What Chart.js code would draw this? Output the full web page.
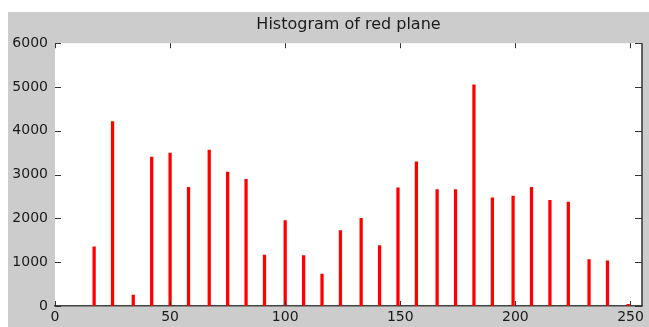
<!DOCTYPE html>
<html>
<head>
<meta charset="utf-8">
<script src="https://cdn.jsdelivr.net/npm/chart.js@4/dist/chart.umd.min.js"></script>
<style>
  body { margin: 0; background: #fff; }
  #wrap { position: absolute; left: 8px; top: 12px; }
</style>
</head>
<body>
<div id="wrap"><canvas id="hist" width="641" height="315"></canvas></div>
<script>
// intensity levels (bins) and their pixel counts
const levels = [17, 25, 34, 42, 50, 58, 67, 75, 83, 91, 100, 108, 116, 124, 133, 141, 149, 157,
                166, 174, 182, 190, 199, 207, 215, 223, 232, 240, 249];
const counts = [1350, 4210, 250, 3400, 3490, 2710, 3560, 3060, 2890, 1160, 1950, 1150, 730, 1720, 2000, 1380, 2700, 3290,
                2660, 2660, 5050, 2470, 2510, 2710, 2410, 2370, 1060, 1030, 40];
const xTicks = [0, 50, 100, 150, 200, 250];
const yTicks = [0, 1000, 2000, 3000, 4000, 5000, 6000];

const FONT = "'DejaVu Sans', sans-serif";
const INK = '#1a1a1a';

// fond gris type figure + zone blanche
const bgPlugin = {
    id: 'bg',
    beforeDraw(chart) {
        const { ctx, chartArea: a } = chart;
        ctx.save();
        ctx.fillStyle = '#cccccc';
        ctx.fillRect(0, 0, chart.width, chart.height);
        ctx.fillStyle = '#ffffff';
        ctx.fillRect(a.left, a.top, a.right - a.left, a.bottom - a.top);
        ctx.restore();
    }
};

// ticks vers l'intérieur sur les 4 côtés + bord droit
const innerTicks = {
    id: 'innerTicks',
    afterDraw(chart) {
        const { ctx, chartArea: a, scales } = chart;
        ctx.save();
        ctx.strokeStyle = '#333';
        ctx.lineWidth = 1;
        ctx.beginPath();
        scales.y.ticks.forEach(t => {
            const py = Math.round(scales.y.getPixelForValue(t.value)) + 0.5;
            ctx.moveTo(a.left, py); ctx.lineTo(a.left + 6, py);
            ctx.moveTo(a.right - 7, py); ctx.lineTo(a.right, py);
        });
        scales.x.ticks.forEach(t => {
            const px = Math.round(scales.x.getPixelForValue(t.value)) + 0.5;
            ctx.moveTo(px, a.top); ctx.lineTo(px, a.top + 5);
            ctx.moveTo(px, a.bottom); ctx.lineTo(px, a.bottom - 5);
        });
        ctx.stroke();
        ctx.lineWidth = 1.5;
        ctx.beginPath();
        ctx.moveTo(a.right, a.top); ctx.lineTo(a.right, a.bottom);
        ctx.stroke();
        ctx.restore();
    }
};

new Chart(document.getElementById('hist'), {
    type: 'bar',
    data: {
        datasets: [{
            data: levels.map((l, i) => ({ x: l, y: counts[i] })),
            backgroundColor: '#ff0000',
            barThickness: 2.6
        }]
    },
    options: {
        responsive: false,
        animation: false,
        layout: { padding: { left: 0, right: 7, top: 0, bottom: 0 } },
        scales: {
            x: {
                type: 'linear', min: 0, max: 255, offset: false,
                grid: { display: false, drawTicks: false, offset: false },
                border: { display: true, color: '#444', width: 1.5 },
                afterBuildTicks: s => { s.ticks = xTicks.map(v => ({ value: v })); },
                afterFit: s => { s.height = 21; },
                ticks: { padding: 3, color: INK, font: { family: FONT, size: 14 }, maxRotation: 0,
                         callback: v => String(v) }
            },
            y: {
                min: 0, max: 6000,
                grid: { display: false, drawTicks: false },
                border: { display: false },
                afterBuildTicks: s => { s.ticks = yTicks.map(v => ({ value: v })); },
                afterFit: s => { s.width = 47; },
                ticks: { padding: 7, color: INK, font: { family: FONT, size: 14 }, callback: v => String(v) }
            }
        },
        plugins: {
            legend: { display: false },
            tooltip: { enabled: false },
            title: {
                display: true,
                fullSize: false, // centré sur la zone du graphe
                text: 'Histogram of red plane',
                color: INK,
                font: { family: FONT, size: 16, weight: 'normal' },
                padding: { top: 3, bottom: 9 }
            }
        }
    },
    plugins: [bgPlugin, innerTicks]
});
</script>
</body>
</html>
